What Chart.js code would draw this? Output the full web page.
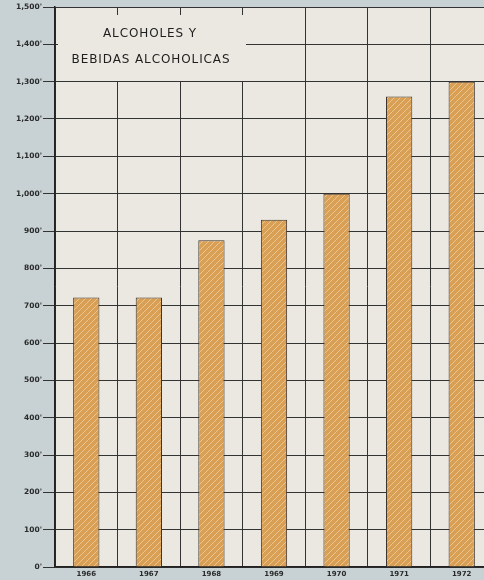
<!DOCTYPE html>
<html>
<head>
<meta charset="utf-8">
<script src="https://cdn.jsdelivr.net/npm/chart.js@4/dist/chart.umd.min.js"></script>
<style>
  html, body { margin: 0; padding: 0; background: #c8d2d4; }
  #wrap { position: relative; width: 484px; height: 580px; overflow: hidden; }
  #box { position: absolute; left: 0; top: 0; width: 494px; height: 580px; }
</style>
</head>
<body>
<div id="wrap"><div id="box"><canvas id="c"></canvas></div></div>
<script>
const years = ["1966", "1967", "1968", "1969", "1970", "1971", "1972"];
const values = [722, 722, 875, 930, 1000, 1260, 1300];
const titleLines = ["ALCOHOLES Y", "BEBIDAS ALCOHOLICAS"];

function fmtTick(v) {
  // 1500 -> "1,500'"
  if (v >= 1000) {
    const rest = String(v % 1000).padStart(3, "0");
    return Math.floor(v / 1000) + "," + rest + "'";
  }
  return v + "'";
}

function makeHatch() {
  const c = document.createElement("canvas");
  c.width = 6; c.height = 6;
  const g = c.getContext("2d");
  g.fillStyle = "#d99f55";
  g.fillRect(0, 0, 6, 6);
  g.strokeStyle = "#e9c590";
  g.lineWidth = 1;
  g.beginPath();
  g.moveTo(-1, 7); g.lineTo(7, -1);
  g.moveTo(-1, 1); g.lineTo(1, -1);
  g.moveTo(5, 7); g.lineTo(7, 5);
  g.stroke();
  return g.createPattern(c, "repeat");
}

const plotBg = {
  id: "plotBg",
  beforeDraw(chart) {
    const { ctx, chartArea: a } = chart;
    ctx.save();
    ctx.fillStyle = "#ebe8e1";
    ctx.fillRect(a.left, a.top, a.right - a.left, a.bottom - a.top);
    ctx.restore();
  }
};

const titleBox = {
  id: "titleBox",
  afterDraw(chart) {
    const { ctx, chartArea: a } = chart;
    ctx.save();
    ctx.fillStyle = "#ebe8e1";
    ctx.fillRect(a.left + 3, a.top + 8, 188, 66);
    ctx.fillStyle = "#1e1e1e";
    ctx.font = "12px 'DejaVu Sans', sans-serif";
    ctx.letterSpacing = "0.9px";
    ctx.textAlign = "center";
    ctx.textBaseline = "middle";
    ctx.fillText(titleLines[0], 150, 34);
    ctx.fillText(titleLines[1], 151, 60);
    ctx.restore();
  }
};

new Chart(document.getElementById("c"), {
  type: "bar",
  data: {
    labels: years,
    datasets: [{
      data: values,
      backgroundColor: makeHatch(),
      borderColor: "#3e342b",
      borderWidth: 1,
      borderSkipped: "bottom",
      categoryPercentage: 1,
      barPercentage: 0.42
    }]
  },
  options: {
    responsive: true,
    maintainAspectRatio: false,
    animation: false,
    layout: { padding: { top: 7, right: 1, left: 0, bottom: 0 } },
    plugins: { legend: { display: false }, tooltip: { enabled: false } },
    scales: {
      x: {
        afterFit(s) { s.height = 13; },
        grid: { color: "#333", lineWidth: 1, drawTicks: false, offset: true },
        border: { display: true, color: "#222", width: 1.5 },
        ticks: { color: "#2a2a2a", font: { size: 7, weight: "bold", family: "'DejaVu Sans'" }, padding: 3 }
      },
      y: {
        min: 0,
        max: 1500,
        afterFit(s) { s.width = 55; },
        grid: { color: "#333", lineWidth: 1, tickLength: 12 },
        border: { display: true, color: "#222", width: 1.5 },
        ticks: {
          stepSize: 100,
          color: "#2a2a2a",
          padding: 1,
          font: { size: 7.5, weight: "bold", family: "'DejaVu Sans'" },
          callback: (v) => fmtTick(v)
        }
      }
    }
  },
  plugins: [plotBg, titleBox]
});
</script>
</body>
</html>
